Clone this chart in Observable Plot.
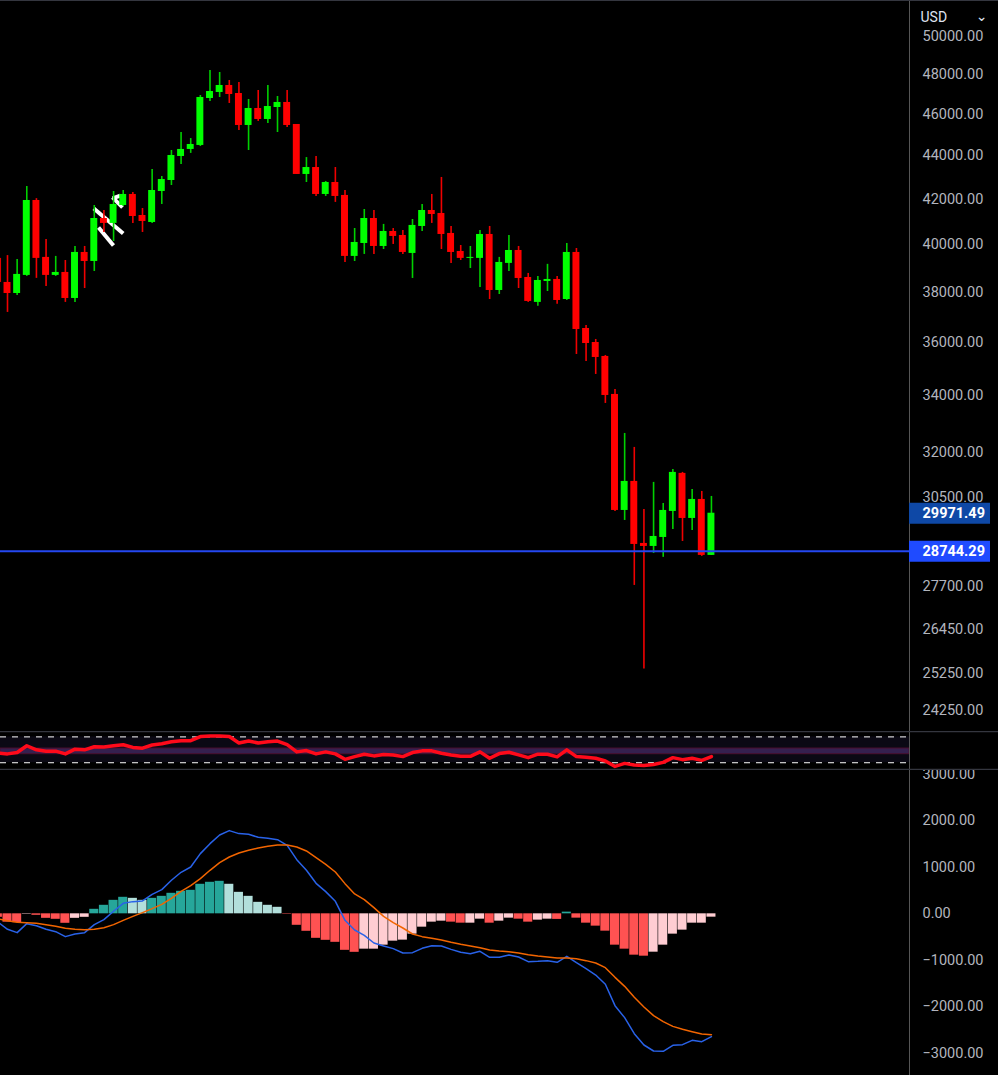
<!DOCTYPE html>
<html>
<head>
<meta charset="utf-8">
<style>
html,body{margin:0;padding:0;background:#000;overflow:hidden}
svg{display:block}
</style>
<script src="https://cdn.jsdelivr.net/npm/d3@7"></script>
<script src="https://cdn.jsdelivr.net/npm/@observablehq/plot@0.6"></script>
</head>
<body>
<div id="chart"></div>
<script>
// ---------- candles (index 0..73) ----------
const opens = [38396, 37944, 38688, 41928, 39443, 38688, 38811, 37742, 39653, 39271, 41125, 40908, 41704, 42200, 41258, 40950, 42335, 42838, 43956, 44289, 44480, 46780, 47082, 47437, 47030, 45444, 46280, 45737, 46329, 46580, 45492, 43116, 43438, 42200, 42746, 42155, 39485, 40037, 41125, 39909, 40556, 40382, 39611, 40775, 41480, 41347, 40470, 39695, 39401, 39401, 40426, 38067, 39190, 39737, 38602, 37583, 38437, 38520, 37700, 39653, 36545, 36000, 35464, 34047, 30061, 31012, 29015, 28922, 29202, 30029, 31281, 29804, 30418, 28645];
const closes = [37944, 38729, 41928, 39401, 38688, 38811, 37742, 39653, 39271, 41125, 40908, 41749, 42200, 41214, 40994, 42380, 42884, 44003, 44289, 44526, 46830, 47132, 47437, 46980, 45444, 46280, 45737, 46378, 46580, 45444, 43116, 43438, 42200, 42746, 42110, 39485, 40080, 41125, 39909, 40556, 40340, 39653, 40820, 41480, 41303, 40426, 39653, 39401, 39443, 40426, 38067, 39230, 39737, 38561, 37622, 38478, 38520, 37661, 39653, 36506, 35961, 35426, 34010, 30061, 31012, 28984, 28922, 29233, 30061, 31314, 29804, 30418, 28645, 29971.49];
const highs = [39520, 39359, 42562, 42012, 40212, 39485, 39313, 39909, 39909, 41704, 41480, 42335, 42380, 42290, 41570, 43347, 43023, 44240, 45102, 44810, 46930, 48207, 48104, 47692, 47590, 46730, 47183, 47437, 46880, 47183, 45492, 43905, 43956, 42792, 43438, 42380, 40685, 41525, 41480, 40865, 40685, 40599, 41080, 41749, 42200, 42977, 40775, 39950, 39909, 40599, 40775, 39443, 40382, 39909, 38770, 38647, 39150, 38647, 40037, 39823, 36660, 36117, 35502, 34230, 32651, 32165, 30093, 30980, 30287, 31413, 31314, 30746, 30680, 30516];
const lows = [37181, 37859, 38647, 38565, 38232, 38647, 37583, 37583, 38149, 38852, 40513, 40123, 41659, 40908, 40513, 40908, 41749, 42609, 43580, 44102, 44430, 46630, 46830, 46530, 45200, 44240, 45640, 45541, 45102, 45346, 43116, 42746, 42110, 42110, 41842, 39230, 39271, 39569, 39569, 39780, 39995, 39569, 38561, 40556, 40908, 39780, 39190, 39313, 38975, 38190, 37700, 37903, 38852, 38149, 37583, 37425, 38026, 37505, 37661, 35540, 35274, 34786, 33720, 30029, 29740, 27736, 25358, 28706, 28585, 29454, 29077, 29422, 28615, 28645];
// a wick from one more candle, whose body is off the left edge
const edgeWick = {i: -0.72, high: 39400, low: 38396};

// ---------- price axis ----------
const priceTicks = [50000, 48000, 46000, 44000, 42000, 40000, 38000, 36000, 34000, 32000, 30500, 27700, 26450, 25250, 24250];
const lastPrice = 29971.49;
const markPrice = 28744.29;
const currency = "USD";

// ---------- RSI (index -1..73) ----------
const rsi = [45, 43.7, 45.8, 56.3, 50, 47.9, 47.9, 43.7, 51, 50, 54.7, 54.2, 56.3, 57.9, 53.7, 52.6, 57.4, 59.5, 62.6, 64.2, 64.2, 70.5, 71.5, 71.5, 70.5, 60.5, 63.6, 60.5, 62.6, 63.6, 57.9, 46.8, 48.9, 43.7, 46.8, 43.7, 35.3, 39.5, 43.2, 40.6, 42.7, 42.1, 39.5, 45.8, 48.4, 48.4, 44.8, 42.1, 40, 40, 46.8, 36.9, 44.2, 46.3, 42.1, 37.9, 43.2, 43.2, 39, 50, 39.5, 38.5, 36.9, 32.7, 24.3, 29, 26.4, 25.9, 27.4, 30.6, 37.9, 34.8, 36.9, 33.7, 39.5];
const rsiLevels = [70, 30];
const rsiBand = [43.2, 52];

// ---------- MACD (index -1..73) ----------
const histogram = [-75, -180, -190, -10, -32, -97, -118, -204, -97, -75, 97, 183, 290, 355, 333, 290, 333, 376, 441, 484, 505, 635, 678, 699, 635, 462, 376, 247, 183, 140, -10, -247, -376, -527, -570, -613, -785, -828, -760, -760, -674, -588, -566, -437, -287, -179, -158, -179, -201, -201, -115, -201, -158, -93, -115, -179, -136, -115, -120, 36, -93, -201, -265, -373, -674, -760, -889, -911, -825, -674, -437, -351, -201, -201, -72];
const macdLine = [-176, -333, -405, -212, -255, -333, -384, -491, -434, -405, -233, -125, 54, 226, 262, 276, 419, 520, 721, 893, 1007, 1294, 1509, 1696, 1789, 1725, 1710, 1646, 1624, 1595, 1473, 1165, 936, 656, 477, 269, -140, -348, -462, -627, -692, -749, -842, -835, -742, -685, -692, -764, -828, -857, -807, -936, -936, -885, -929, -1029, -1022, -1007, -1043, -914, -1050, -1179, -1316, -1516, -1975, -2233, -2578, -2821, -2950, -2958, -2829, -2814, -2721, -2750, -2642];
const signalLine = [-111, -147, -183, -190, -204, -233, -269, -312, -333, -341, -333, -298, -233, -140, -54, 25, 111, 204, 333, 484, 606, 756, 936, 1101, 1222, 1309, 1366, 1416, 1452, 1481, 1481, 1438, 1352, 1208, 1065, 900, 649, 427, 305, 133, -54, -190, -305, -434, -491, -527, -563, -613, -656, -692, -728, -778, -799, -814, -842, -878, -907, -929, -950, -950, -964, -1007, -1057, -1158, -1366, -1560, -1796, -2004, -2190, -2319, -2420, -2484, -2535, -2585, -2599];
const macdTicks = [3000, 2000, 1000, 0, -1000, -2000, -3000];

// ---------- hand-drawn white strokes, in chart values ----------
const strokeX1 = [8.95, 9.44, 10.89, 10.9];
const strokeX2 = [12.0, 10.99, 11.93, 11.7];
const strokePrice1 = [41570, 40730, 42065, 42020];
const strokePrice2 = [40470, 39950, 41620, 42150];

// ---------- style ----------
const UP = "#00ff00", DOWN = "#ff0000", UPWICK = "#00d000", DOWNWICK = "#f00000";
const AXIS_TEXT = "#b2b5be", LINE = "#565656", SEP = "#34363f";
const FONT = "Roboto, sans-serif";
const W = 998, X0 = -0.726, X1 = 93.54, XFAR = 107, XLABEL = 94.89, XBOX = 101.94;

const candles = opens.map((o, i) => ({i, open: o, close: closes[i], high: highs[i], low: lows[i]}));
const idx = i => i - 1;
const rsiRows = rsi.map((v, i) => ({i: idx(i), v}));
const macdRows = macdLine.map((v, i) => ({i: idx(i), macd: v, signal: signalLine[i]}));
const histRows = histogram.map((v, k) => {
  const prev = k ? histogram[k - 1] : v;
  const fill = v >= 0 ? (v >= prev ? "#26a69a" : "#b2dfdb") : (v < prev || k === 0 ? "#ff5252" : "#ffcdd2");
  return {i: idx(k), v, fill};
});
const strokes = strokeX1.map((x, k) => ({x1: x, x2: strokeX2[k], p1: strokePrice1[k], p2: strokePrice2[k]}));

const base = h => ({
  width: W, height: h,
  marginTop: 0, marginBottom: 0, marginLeft: 0, marginRight: W - 909,
  x: {domain: [X0, X1], axis: null},
  color: {type: "identity"},
  style: {background: "#000", fontFamily: FONT, display: "block", overflow: "hidden"}
});
const fmt = d => (d < 0 ? "\u2212" : "") + Math.abs(d).toFixed(2);
const axis = ticks => Plot.axisY({anchor: "right", ticks, tickSize: 0, tickPadding: 13, tickFormat: fmt, label: null, fontSize: 14.5, fill: AXIS_TEXT, fontFamily: FONT});

// ---------- price pane ----------
const pricePane = Plot.plot({
  ...base(731),
  y: {type: "log", domain: [23711, 51968], axis: null},
  marks: [
    Plot.link(strokes, {x1: "x1", x2: "x2", y1: "p1", y2: "p2", stroke: "#fff", strokeWidth: 4}),
    Plot.ruleX([edgeWick], {x: "i", y1: "low", y2: "high", stroke: DOWNWICK, strokeWidth: 1}),
    Plot.ruleX(candles, {x: "i", y1: "low", y2: "high", stroke: d => d.close >= d.open ? UPWICK : DOWNWICK, strokeWidth: 1.6}),
    Plot.rect(candles, {x1: d => d.i - 0.36, x2: d => d.i + 0.36, y1: "open", y2: "close", fill: d => d.close >= d.open ? UP : DOWN}),
    Plot.ruleY([markPrice], {x1: X0, x2: X1, stroke: "#2447f0", strokeWidth: 2, dy: -1}),
    Plot.ruleX([X1], {stroke: LINE}),
    Plot.ruleY([51968], {x1: X0, x2: XFAR, stroke: SEP}),
    axis(priceTicks),
    Plot.ruleY([lastPrice], {x1: X1, x2: XBOX, stroke: "#0e48a6", strokeWidth: 21}),
    Plot.ruleY([markPrice], {x1: X1, x2: XBOX, stroke: "#1f4bff", strokeWidth: 21, dy: -1}),
    Plot.text([lastPrice], {x: XLABEL, y: d => d, text: d => d.toFixed(2), textAnchor: "start", fill: "#fff", fontSize: 14.5, fontWeight: 700}),
    Plot.text([markPrice], {x: XLABEL, y: d => d, dy: -1, text: d => d.toFixed(2), textAnchor: "start", fill: "#fff", fontSize: 14.5, fontWeight: 700}),
    Plot.text([currency], {x: 93.54 + 11 / 9.643, y: 51030, text: d => d, textAnchor: "start", fill: "#dfe3f0", fontSize: 14}),
    Plot.text(["\u2304"], {x: 93.54 + 72 / 9.643, y: 51100, text: d => d, textAnchor: "middle", fill: "#dfe3f0", fontSize: 14, fontFamily: "DejaVu Sans"})
  ]
});

// ---------- RSI pane ----------
const rsiPane = Plot.plot({
  ...base(39),
  y: {domain: [18, 78.35], axis: null},
  marks: [
    Plot.rect([rsiLevels], {x1: X0, x2: X1, y1: d => d[0], y2: d => d[1], fill: "#0b0914"}),
    Plot.rect([rsiBand], {x1: X0, x2: X1, y1: d => d[0], y2: d => d[1], fill: "#35204f", stroke: "#4b1030", strokeWidth: 1}),
    Plot.ruleY(rsiLevels, {x1: X0, x2: X1, stroke: "#fff", strokeWidth: 1, strokeDasharray: "6 6"}),
    Plot.line(rsiRows, {x: "i", y: "v", stroke: "#ff0a1a", strokeWidth: 3.5, curve: "linear"}),
    Plot.ruleX([X1], {stroke: LINE}),
    Plot.ruleY([78.35], {x1: X0, x2: XFAR, stroke: SEP, strokeWidth: 1.5}),
    Plot.ruleY([19], {x1: X0, x2: XFAR, stroke: SEP, strokeWidth: 2})
  ]
});

// ---------- MACD pane ----------
const macdPane = Plot.plot({
  ...base(305),
  y: {domain: [-3477, 3082], axis: null},
  marks: [
    Plot.rect(histRows, {x1: d => d.i - 0.47, x2: d => d.i + 0.47, y1: 0, y2: "v", fill: "fill"}),
    Plot.line(macdRows, {x: "i", y: "macd", stroke: "#2962e8", strokeWidth: 1.5}),
    Plot.line(macdRows, {x: "i", y: "signal", stroke: "#f26500", strokeWidth: 1.5}),
    Plot.ruleX([X1], {stroke: LINE}),
    axis(macdTicks)
  ]
});

document.getElementById("chart").append(pricePane, rsiPane, macdPane);
</script>
</body>
</html>
